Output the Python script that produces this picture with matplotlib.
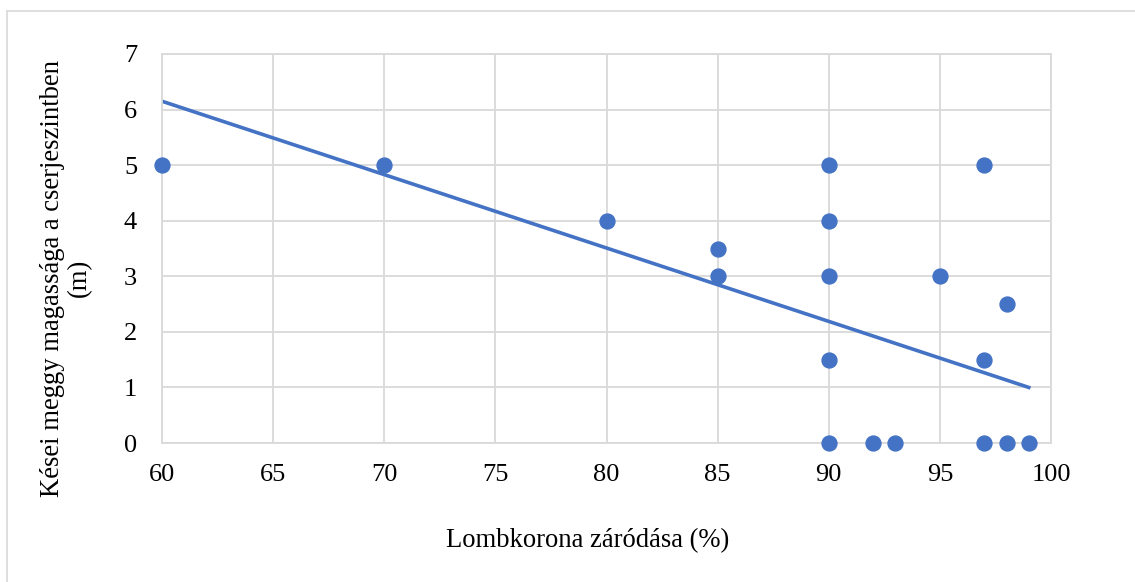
import matplotlib
matplotlib.use("Agg")
import matplotlib.pyplot as plt
from matplotlib.lines import Line2D

# Dati
lombkorona = [60, 70, 80, 85, 85, 90, 90, 90, 90, 90, 92, 93, 95, 97, 97, 97, 98, 98, 99]
magassag = [5, 5, 4, 3.5, 3, 5, 4, 3, 1.5, 0, 0, 0, 3, 5, 1.5, 0, 2.5, 0, 0]

# Linea di tendenza (estremi)
trend_x = [60, 99]
trend_y = [6.15, 1.0]

x_ticks = [60, 65, 70, 75, 80, 85, 90, 95, 100]
y_ticks = [0, 1, 2, 3, 4, 5, 6, 7]

BLUE = "#4472C4"
GRID = "#D9D9D9"

plt.rcParams["font.family"] = ["Liberation Serif", "DejaVu Serif"]

W, H = 1135, 582
fig = plt.figure(figsize=(W / 100, H / 100), dpi=100)
ax = fig.add_axes([162 / W, 1 - 443 / H, (1051 - 162) / W, (443 - 54) / H])

ax.plot(trend_x, trend_y, color=BLUE, linewidth=2.6, zorder=2)
ax.scatter(lombkorona, magassag, s=115, color=BLUE, zorder=3, clip_on=False)

ax.set_xlim(60, 100)
ax.set_ylim(0, 7)
ax.set_xticks(x_ticks)
ax.set_yticks(y_ticks)
ax.grid(True, color=GRID, linewidth=1.3)
ax.set_axisbelow(True)
for s in ax.spines.values():
    s.set_color(GRID)
    s.set_linewidth(1.3)
ax.tick_params(length=0, labelsize=19)
ax.tick_params(axis="x", pad=15)
ax.tick_params(axis="y", pad=18)

fig.text(588 / W, 1 - 541 / H, "Lombkorona záródása (%)", ha="center", va="center", fontsize=19.2)
fig.text(66 / W, 1 - 278 / H, "Kései meggy magassága a cserjeszintben\n(m)",
         ha="center", va="center", rotation=90, fontsize=19.2, linespacing=1.15)

# Bordo del grafico
fig.add_artist(Line2D([7 / W, 7 / W], [0, 1 - 11 / H], color=GRID, linewidth=1.2))
fig.add_artist(Line2D([7 / W, 1], [1 - 11 / H, 1 - 11 / H], color=GRID, linewidth=1.2))

fig.savefig("out.png", dpi=100)
